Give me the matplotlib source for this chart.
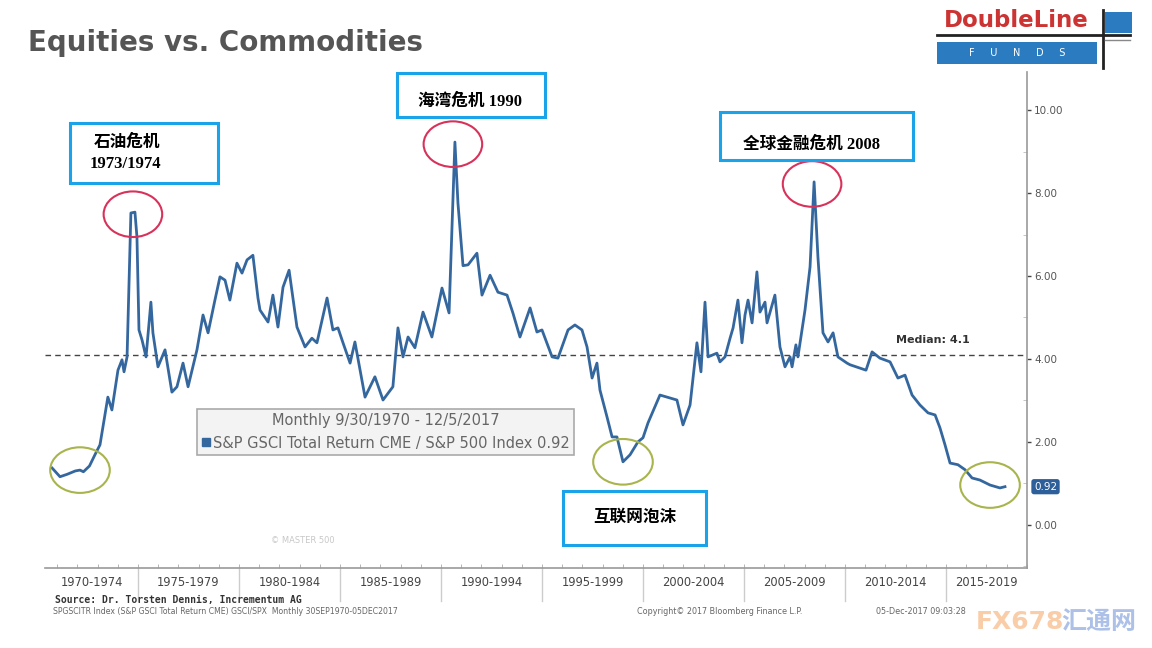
import matplotlib
matplotlib.use("Agg")
import matplotlib.pyplot as plt
from matplotlib.lines import Line2D
from matplotlib.patches import Ellipse, Rectangle
from matplotlib.ticker import MultipleLocator, FuncFormatter
import numpy as np

plt.rcParams['font.family'] = ['DejaVu Sans', 'Noto Sans CJK SC']

# S&P GSCI TR / S&P 500 ratio (decimal year, ratio)
years = [
    1970.75, 1971.14, 1971.5, 1971.9, 1972.13, 1972.3, 1972.6, 1972.87, 1973.12,
    1973.51, 1973.71, 1974.01, 1974.21, 1974.31, 1974.46, 1974.65, 1974.85, 1974.95,
    1975.05, 1975.20, 1975.40, 1975.64, 1975.74, 1975.99, 1976.34, 1976.68, 1976.93,
    1977.23, 1977.48, 1977.92, 1978.22, 1978.47, 1978.81, 1979.06, 1979.31, 1979.55,
    1979.90, 1980.15, 1980.40, 1980.69, 1980.94, 1981.04, 1981.44, 1981.68, 1981.93,
    1982.18, 1982.48, 1982.87, 1983.27, 1983.61, 1983.86, 1984.36, 1984.65, 1984.90,
    1985.15, 1985.50, 1985.74, 1986.24, 1986.73, 1987.13, 1987.62, 1987.87, 1988.12,
    1988.37, 1988.71, 1989.11, 1989.55, 1990.05, 1990.40, 1990.69, 1990.84, 1991.09,
    1991.34, 1991.78, 1992.03, 1992.43, 1992.82, 1993.27, 1993.56, 1993.91, 1994.41,
    1994.75, 1995.00, 1995.50, 1995.79, 1996.29, 1996.63, 1996.98, 1997.23, 1997.48,
    1997.72, 1997.87, 1998.22, 1998.47, 1998.71, 1999.01, 1999.36, 1999.75, 2000.00,
    2000.25, 2000.84, 2001.19, 2001.68, 2001.98, 2002.33, 2002.67, 2002.87, 2003.07,
    2003.22, 2003.66, 2003.81, 2004.06, 2004.31, 2004.46, 2004.70, 2004.90, 2005.05,
    2005.20, 2005.40, 2005.64, 2005.79, 2006.04, 2006.14, 2006.53, 2006.78, 2007.03,
    2007.28, 2007.38, 2007.57, 2007.67, 2008.02, 2008.27, 2008.47, 2008.66, 2008.91,
    2009.16, 2009.41, 2009.65, 2010.10, 2010.25, 2011.04, 2011.34, 2011.73, 2012.23,
    2012.62, 2012.97, 2013.32, 2013.71, 2014.11, 2014.46, 2014.70, 2014.95, 2015.20,
    2015.59, 2015.94, 2016.29, 2016.68, 2017.18, 2017.67, 2017.92,
]
ratio = [
    1.37, 1.16, 1.22, 1.30, 1.32, 1.28, 1.42, 1.69, 1.93,
    3.08, 2.77, 3.73, 3.98, 3.69, 4.05, 7.52, 7.54, 6.94,
    4.70, 4.46, 4.05, 5.37, 4.63, 3.81, 4.22, 3.20, 3.33,
    3.90, 3.33, 4.22, 5.06, 4.63, 5.42, 5.98, 5.90, 5.42,
    6.31, 6.07, 6.39, 6.50, 5.47, 5.18, 4.89, 5.54, 4.77,
    5.73, 6.14, 4.77, 4.29, 4.50, 4.39, 5.47, 4.70, 4.75,
    4.39, 3.90, 4.41, 3.08, 3.57, 3.01, 3.33, 4.75, 4.05,
    4.53, 4.27, 5.13, 4.53, 5.71, 5.11, 9.23, 7.76, 6.25,
    6.27, 6.55, 5.54, 6.02, 5.61, 5.54, 5.11, 4.53, 5.23,
    4.65, 4.70, 4.05, 4.02, 4.70, 4.82, 4.70, 4.29, 3.54,
    3.90, 3.25, 2.60, 2.12, 2.12, 1.52, 1.69, 2.00, 2.10,
    2.46, 3.13, 3.08, 3.01, 2.41, 2.89, 4.39, 3.69, 5.37,
    4.05, 4.14, 3.93, 4.05, 4.50, 4.75, 5.42, 4.39, 5.06,
    5.42, 4.87, 6.10, 5.13, 5.37, 4.87, 5.54, 4.29, 3.81,
    4.05, 3.81, 4.34, 4.05, 5.18, 6.22, 8.27, 6.46, 4.63,
    4.41, 4.63, 4.05, 3.90, 3.86, 3.73, 4.17, 4.02, 3.93,
    3.54, 3.61, 3.13, 2.89, 2.70, 2.65, 2.34, 1.93, 1.49,
    1.45, 1.33, 1.13, 1.08, 0.96, 0.89, 0.92,
]
median = 4.1
last_value = 0.92

period_starts = [1970, 1975, 1980, 1985, 1990, 1995, 2000, 2005, 2010, 2015]
period_labels = ["1970-1974", "1975-1979", "1980-1984", "1985-1989", "1990-1994",
                 "1995-1999", "2000-2004", "2005-2009", "2010-2014", "2015-2019"]

# red = peaks (window), green = troughs (nearest year)
peak_windows = [(1974.0, 1975.5), (1990.0, 1991.5), (2007.5, 2009.0)]
trough_years = [1972.1, 1999.0, 2017.0]

line_color = "#35679f"
grey = "#555555"

fig = plt.figure(figsize=(11.52, 6.48), dpi=100)
ax = fig.add_axes([0.0391, 0.1235, 0.8524, 0.7654])
x0, x1 = 1970.40, 2019.01
ax.set_xlim(x0, x1)
ax.set_ylim(-1.04, 10.92)

x = np.array(years)
y = np.array(ratio)
ax.plot(x, y, color=line_color, lw=2.0, zorder=3)
ax.axhline(median, color="#444444", lw=1.0, ls=(0, (4, 3)), zorder=2)
ax.text(0.942, (median - ax.get_ylim()[0]) / (ax.get_ylim()[1] - ax.get_ylim()[0]) + 0.02,
        "Median: 4.1", transform=ax.transAxes, ha="right", va="bottom",
        fontsize=8, fontweight="bold", color="#333333")

# circles around peaks and troughs
for lo, hi in peak_windows:
    m = (x >= lo) & (x <= hi)
    i = np.argmax(np.where(m, y, -np.inf))
    ax.add_patch(Ellipse((x[i] - 0.1, y[i] - 0.05), 2.9, 1.1, fill=False,
                         ec="#d8325a", lw=1.5, zorder=4))
for yr in trough_years:
    i = np.argmin(np.abs(x - yr))
    ax.add_patch(Ellipse((x[i], y[i]), 2.95, 1.1, fill=False,
                         ec="#a9b44c", lw=1.5, zorder=4))

# spines and ticks
for s in ["left", "top"]:
    ax.spines[s].set_visible(False)
for s in ["right", "bottom"]:
    ax.spines[s].set_color("#999999")
    ax.spines[s].set_linewidth(1.2)

ax.yaxis.tick_right()
ax.yaxis.set_major_locator(MultipleLocator(2))
ax.yaxis.set_minor_locator(MultipleLocator(1))
ax.yaxis.set_major_formatter(FuncFormatter(lambda v, p: f"{v:.2f}"))
ax.tick_params(axis="y", which="major", direction="out", length=3, width=1,
               color="#444444", labelsize=7.5, labelcolor=grey, pad=2)
ax.tick_params(axis="y", which="minor", direction="in", length=3, color="#bbbbbb")
ax.set_xticks([])
ax.xaxis.set_minor_locator(MultipleLocator(1))
ax.tick_params(axis="x", which="minor", direction="in", length=3, color="#aaaaaa")

# period labels and separators
for start, lab in zip(period_starts, period_labels):
    lo = max(start, x0)
    hi = min(start + 5, x1)
    ax.text((lo + hi) / 2, -0.03, lab, transform=ax.get_xaxis_transform(),
            ha="center", va="center", fontsize=8.3, color="#444444")
    if start > x0:
        ax.plot([start, start], [0, -0.066], transform=ax.get_xaxis_transform(),
                color="#cccccc", lw=1, clip_on=False)

# last value tag
ax.annotate(f"{last_value:.2f}", xy=(1, last_value), xycoords=("axes fraction", "data"),
            xytext=(5, 0), textcoords="offset points", ha="left", va="center",
            fontsize=7.5, color="white",
            bbox=dict(boxstyle="round,pad=0.25", fc="#2d5f9a", ec="none"))

# legend
handle = Line2D([], [], marker="s", color=line_color, ls="none", markersize=5.5)
leg = ax.legend([handle], ["S&P GSCI Total Return CME / S&P 500 Index 0.92"],
                title="Monthly 9/30/1970 - 12/5/2017", loc="lower left",
                bbox_to_anchor=(0.155, 0.228), borderaxespad=0, fontsize=10.5,
                title_fontsize=10.5, frameon=True, fancybox=False, edgecolor="#aaaaaa",
                facecolor="#f3f3f3", framealpha=1, handlelength=0.6, handletextpad=0.15,
                borderpad=0.3, labelcolor="#666666")
leg.get_title().set_color("#666666")
leg.get_frame().set_linewidth(1.2)

ax.text(0.23, 0.05, "© MASTER 500", transform=ax.transAxes, fontsize=6, color="#c8c8c8")

# title
fig.text(0.024, 0.934, "Equities vs. Commodities", fontsize=20, fontweight="bold",
         color="#555555", va="center")

# annotation boxes
cjk = ["Liberation Serif", "Noto Sans CJK SC"]
boxes = [
    ((0.0608, 0.7176), 0.1285, 0.0926),
    ((0.3446, 0.8194), 0.1285, 0.0679),
    ((0.6250, 0.7531), 0.1675, 0.0741),
    ((0.4887, 0.1590), 0.1241, 0.0833),
]
for (bx, by), bw, bh in boxes:
    fig.add_artist(Rectangle((bx, by), bw, bh, transform=fig.transFigure,
                             fill=True, fc="white", ec="#1aa3e8", lw=2.2, zorder=5))
fig.text(0.110, 0.779, "石油危机", family=cjk, fontsize=12, fontweight="bold",
         ha="center", va="center", zorder=6)
fig.text(0.1085, 0.747, "1973/1974", family=cjk, fontsize=12, fontweight="bold",
         ha="center", va="center", zorder=6)
fig.text(0.408, 0.8426, "海湾危机 1990", family=cjk, fontsize=12, fontweight="bold",
         ha="center", va="center", zorder=6)
fig.text(0.704, 0.7762, "全球金融危机 2008", family=cjk, fontsize=12, fontweight="bold",
         ha="center", va="center", zorder=6)
fig.text(0.551, 0.2006, "互联网泡沫", family=cjk, fontsize=12, fontweight="bold",
         ha="center", va="center", zorder=6)

# DoubleLine logo
fig.text(0.819, 0.969, "DoubleLine", fontsize=16.5, fontweight="bold", color="#cc3333",
         va="center", ha="left")
fig.add_artist(Line2D([0.813, 0.981], [0.946, 0.946], color="#222222", lw=2))
fig.add_artist(Rectangle((0.813, 0.901), 0.139, 0.034, transform=fig.transFigure,
                         fc="#2b7bc0", ec="none"))
fig.text(0.883, 0.918, "F     U     N     D     S", fontsize=7, color="white",
         ha="center", va="center")
fig.add_artist(Line2D([0.9575, 0.9575], [0.895, 0.985], color="#222222", lw=2))
fig.add_artist(Rectangle((0.959, 0.949), 0.0234, 0.0324, transform=fig.transFigure,
                         fc="#2b7bc0", ec="none"))
fig.add_artist(Line2D([0.959, 0.981], [0.938, 0.938], color="#888888", lw=1))

# footer
fig.text(0.048, 0.074, "Source: Dr. Torsten Dennis, Incrementum AG", family="DejaVu Sans Mono",
         fontsize=7, fontweight="bold", color="#333333", va="center")
fig.text(0.046, 0.0556, "SPGSCITR Index (S&P GSCI Total Return CME) GSCI/SPX  Monthly 30SEP1970-05DEC2017",
         fontsize=5.6, color="#666666", va="center")
fig.text(0.625, 0.0556, "Copyright© 2017 Bloomberg Finance L.P.", fontsize=5.8,
         color="#666666", va="center", ha="center")
fig.text(0.838, 0.0556, "05-Dec-2017 09:03:28", fontsize=5.8, color="#666666",
         va="center", ha="right")

# watermark
fig.text(0.847, 0.040, "FX678", fontsize=18, color="#f4a460", alpha=0.55,
         va="center", fontweight="bold")
fig.text(0.921, 0.040, "汇通网", fontsize=18, color="#6b8fd6", alpha=0.55,
         va="center", family=["Noto Sans CJK SC"], fontweight="bold")

fig.savefig("out.png", dpi=100, facecolor="white")
